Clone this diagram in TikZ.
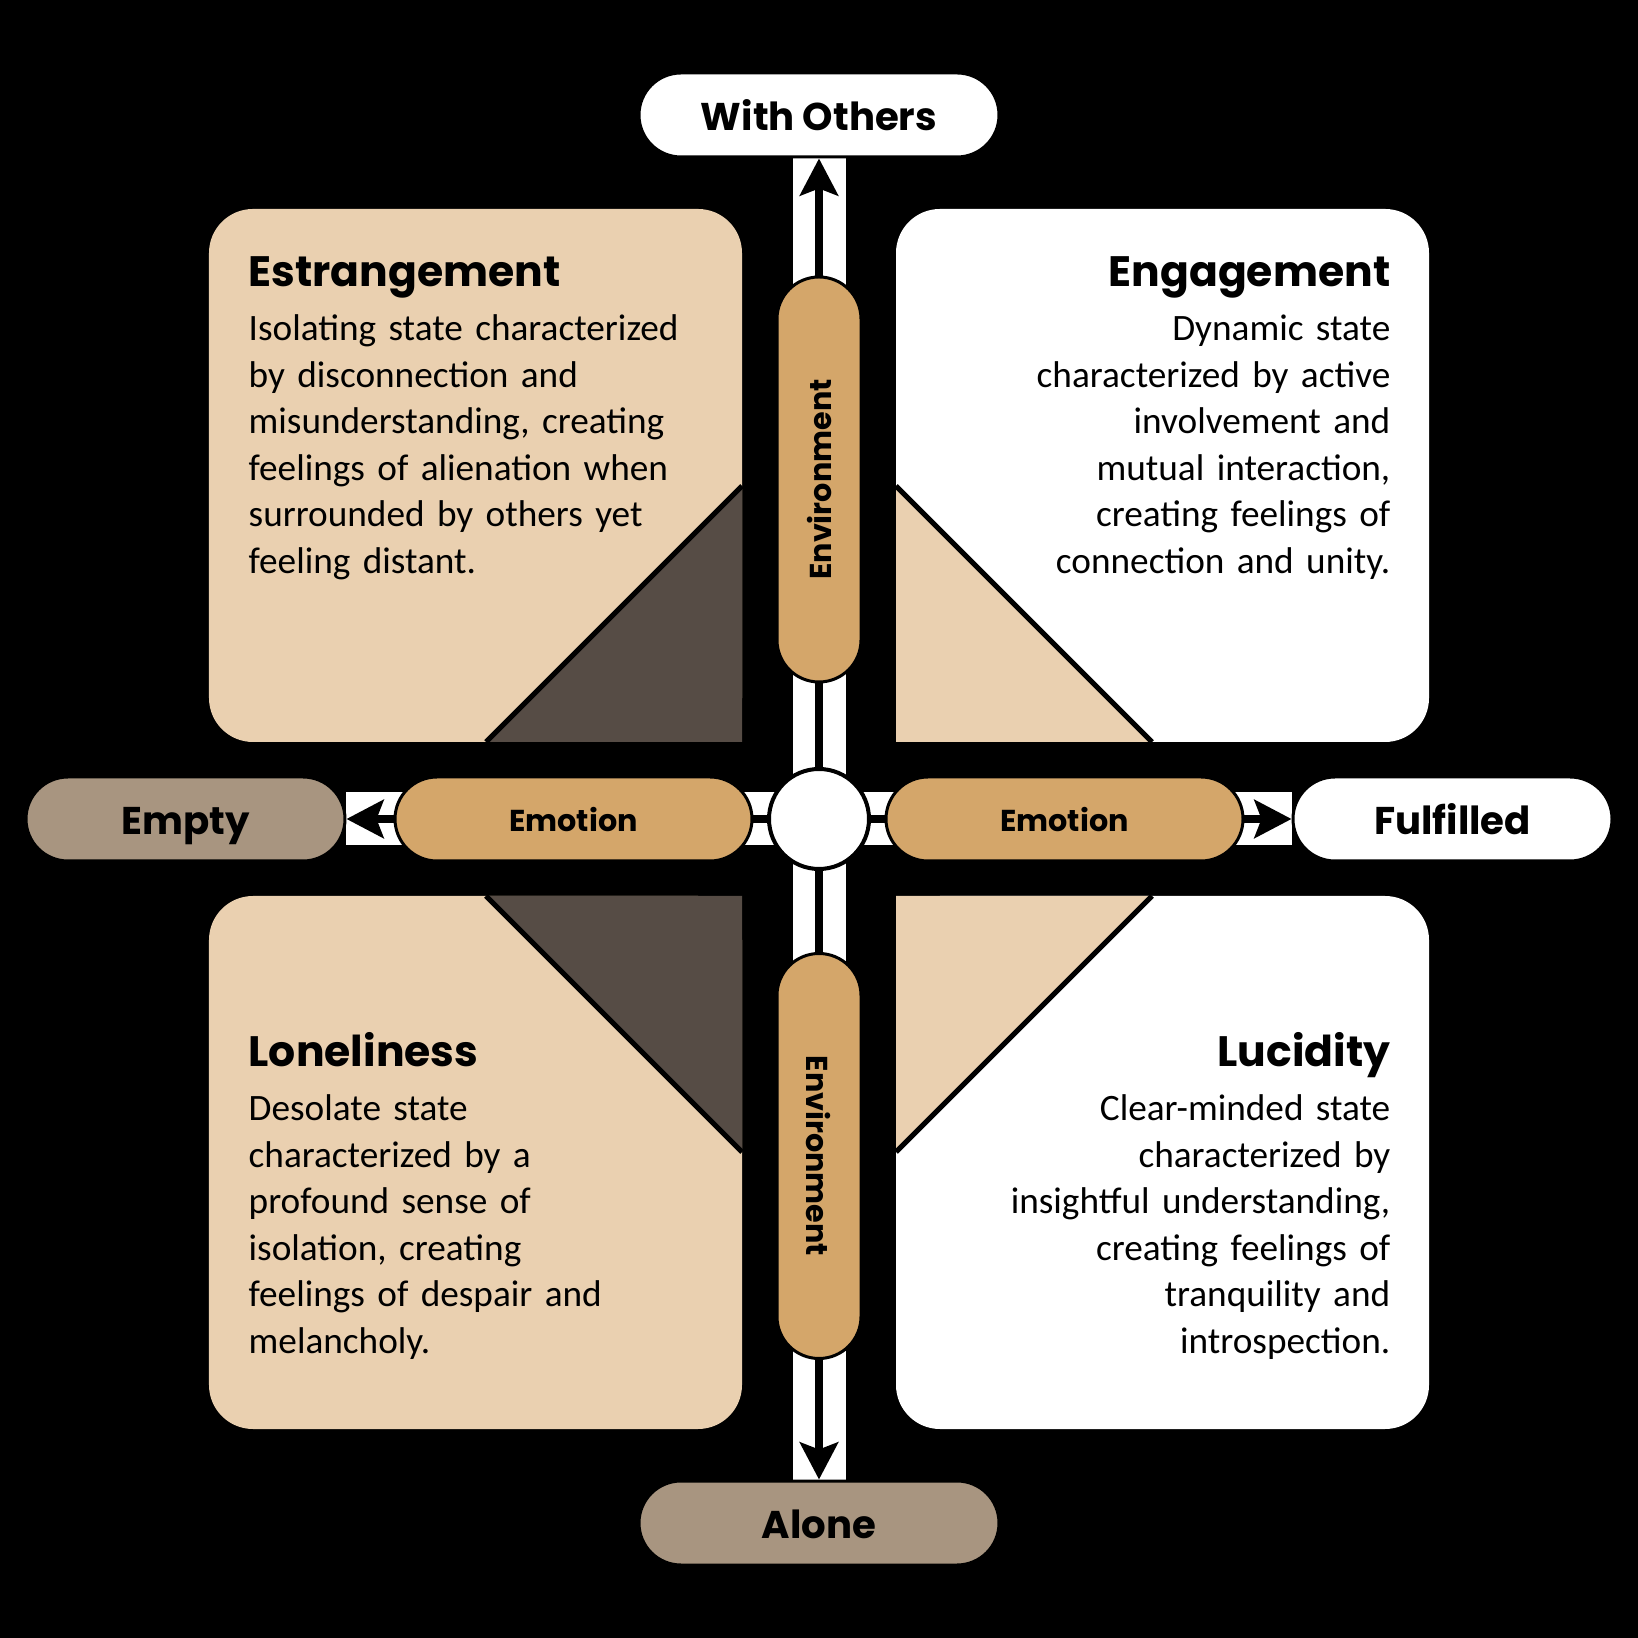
\documentclass[tikz,border=0pt]{standalone}
\usepackage{fontspec}
\setmainfont{Carlito}
\newfontfamily\headfont{Poppins}
\usetikzlibrary{
  positioning,
  arrows.meta,
  backgrounds}

\definecolor{tanbox}{HTML}{EAD0B0}
\definecolor{pillbrown}{HTML}{D4A66A}
\definecolor{greybrown}{HTML}{A89580}
\definecolor{darkwedge}{HTML}{564C45}

\tikzset{
  quadbox/.style={rounded corners=0.44cm},
  wedgeline/.style={line width=0.05cm},
  pill/.style={
    draw=black,
    line width=0.03cm,
    rounded corners=0.42cm,
    minimum height=0.84cm,
    inner sep=0pt,
    text height=0.86em,
    text depth=0pt,
    font=\headfont\bfseries\fontsize{11}{13}\selectfont
  },
  axispill/.style={
    pill,
    fill=pillbrown,
    text height=0.7em,
    font=\headfont\bfseries\fontsize{8.6}{10}\selectfont
  },
  quadtitle/.style={
    inner sep=0pt,
    font=\headfont\bfseries\fontsize{12.1}{14}\selectfont
  },
  quadtext/.style={
    inner sep=0pt,
    text width=5cm,
    font=\fontsize{10.6}{13.23}\selectfont
  },
  strip/.style={white, line width=0.53cm},
  axisarrow/.style={
    line width=0.08cm,
    -{Stealth[length=0.37cm, width=0.38cm, inset=0.07cm]}
  }
}

\begin{document}
\begin{tikzpicture}%
  \useasboundingbox (-8.19,-8.19) rectangle (8.19,8.19);

  % Quadrants
  \fill[tanbox, quadbox] (-6.10,0.77) rectangle (-0.77,6.10);
  \fill[darkwedge] (-0.77,3.33) -- (-0.77,0.77) -- (-3.33,0.77) -- cycle;
  \draw[wedgeline] (-0.77,3.33) -- (-3.33,0.77);

  \fill[white, quadbox] (0.77,0.77) rectangle (6.10,6.10);
  \fill[tanbox] (0.77,3.33) -- (0.77,0.77) -- (3.33,0.77) -- cycle;
  \draw[wedgeline] (0.77,3.33) -- (3.33,0.77);

  \fill[tanbox, quadbox] (-6.10,-0.77) rectangle (-0.77,-6.10);
  \fill[darkwedge] (-0.77,-3.33) -- (-0.77,-0.77) -- (-3.33,-0.77) -- cycle;
  \draw[wedgeline] (-0.77,-3.33) -- (-3.33,-0.77);

  \fill[white, quadbox] (0.77,-0.77) rectangle (6.10,-6.10);
  \fill[tanbox] (0.77,-3.33) -- (0.77,-0.77) -- (3.33,-0.77) -- cycle;
  \draw[wedgeline] (0.77,-3.33) -- (3.33,-0.77);

  % Quadrant texts
  \node[quadtitle, anchor=base west] (estr) at (-5.71,5.32) {Estrangement};
  \node[quadtext, anchor=base west, align=left] (estrtext) at (-5.71,4.78)
    {Isolating state characterized\\
     by disconnection and\\
     misunderstanding, creating\\
     feelings of alienation when\\
     surrounded by others yet\\
     feeling distant.};

  \node[quadtitle, anchor=base east] (enga) at (5.72,5.32) {Engagement};
  \node[quadtext, anchor=base east, align=right] (engatext) at (5.72,4.78)
    {Dynamic state\\
     characterized by active\\
     involvement and\\
     mutual interaction,\\
     creating feelings of\\
     connection and unity.};

  \node[quadtitle, anchor=base west] (lone) at (-5.71,-2.48) {Loneliness};
  \node[quadtext, anchor=base west, align=left] (lonetext) at (-5.71,-3.02)
    {Desolate state\\
     characterized by a\\
     profound sense of\\
     isolation, creating\\
     feelings of despair and\\
     melancholy.};

  \node[quadtitle, anchor=base east] (luci) at (5.72,-2.48) {Lucidity};
  \node[quadtext, anchor=base east, align=right] (lucitext) at (5.72,-3.02)
    {Clear-minded state\\
     characterized by\\
     insightful understanding,\\
     creating feelings of\\
     tranquility and\\
     introspection.};

  % Axis ends
  \node[pill, fill=white, minimum width=3.60cm] (others) at (0,7.04) {With Others};
  \node[pill, fill=greybrown, minimum width=3.60cm] (alone) at (0,-7.04) {Alone};
  \node[pill, fill=greybrown, minimum width=3.19cm] (empty) at (-6.335,0) {Empty};
  \node[pill, fill=white, minimum width=3.19cm] (fulfilled) at (6.335,0) {Fulfilled};

  % Hub
  \node[
    circle,
    draw,
    fill=white,
    line width=0.04cm,
    minimum size=1.0cm,
    inner sep=0pt
  ] (hub) at (0,0) {};

  % Axis labels
  \node[axispill, minimum width=3.57cm] (emoleft) at (-2.455,0) {Emotion};
  \node[axispill, minimum width=3.57cm] (emoright) at (2.455,0) {Emotion};
  \node[axispill, minimum width=4.05cm, rotate=90] (envtop) at (0,3.395) {Environment};
  \node[axispill, minimum width=4.05cm, rotate=-90] (envbottom) at (0,-3.37) {Environment};

  % Axes
  \begin{pgfonlayer}{background}
    \fill[black] (-8.19,-8.19) rectangle (8.19,8.19);
    \draw[strip] (hub.center) -- (others);
    \draw[strip] (hub.center) -- (alone);
    \draw[strip] (hub.center) -- (empty);
    \draw[strip] (hub.center) -- (fulfilled);
    \draw[axisarrow] (hub) -- (others);
    \draw[axisarrow] (hub) -- (alone);
    \draw[axisarrow] (hub) -- (empty);
    \draw[axisarrow] (hub) -- (fulfilled);
  \end{pgfonlayer}
\end{tikzpicture}
\end{document}
